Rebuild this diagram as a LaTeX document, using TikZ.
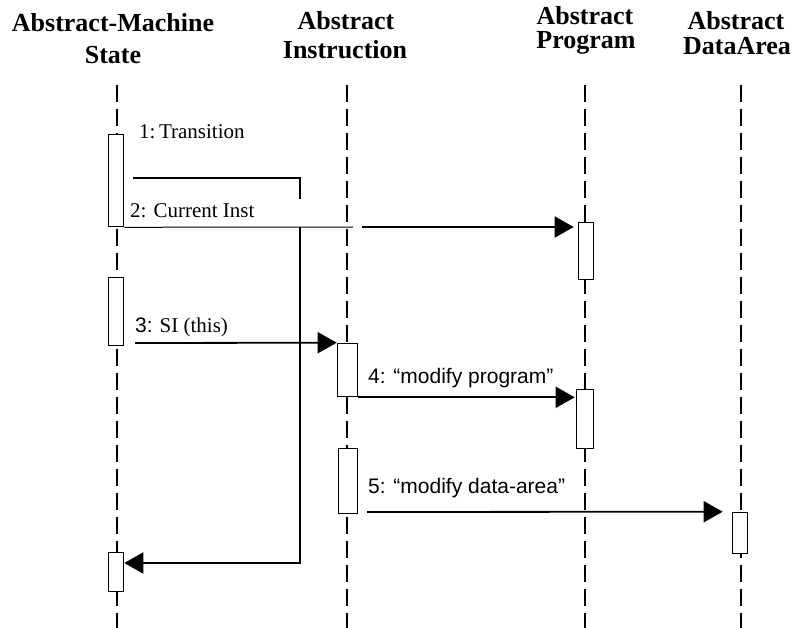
\documentclass[tikz,border=0pt]{standalone}
\usepackage{fontspec}
\setmainfont{Liberation Serif}
\newfontfamily\sansf{Liberation Sans}
\usetikzlibrary{arrows.meta}
\begin{document}
\begin{tikzpicture}[x=1pt,y=-1pt,
  hdr/.style={font=\fontsize{26}{30}\selectfont\bfseries, inner sep=0pt, anchor=base},
  lbl/.style={font=\fontsize{21}{24}\selectfont, inner sep=0pt, anchor=base west},
  life/.style={line width=1.6pt, dash pattern=on 17pt off 7pt},
  act/.style={draw, line width=1.6pt, fill=white, inner sep=0pt},
  msgline/.style={line width=1.8pt},
  msg/.style={line width=1.8pt, -{Triangle[length=19pt,width=21pt]}},
]
\useasboundingbox (0,0) rectangle (797,628);

% headers
\node[hdr] (h1a) at (113,32) {Abstract-Machine};
\node[hdr] (h1b) at (113,64) {State};
\node[hdr] (h2a) at (346,30) {Abstract};
\node[hdr] (h2b) at (345,59) {Instruction};
\node[hdr] (h3a) at (585,25) {Abstract};
\node[hdr] (h3b) at (586,49) {Program};
\node[hdr] (h4a) at (736,30) {Abstract};
\node[hdr] (h4b) at (737,55) {DataArea};

% lifelines
\coordinate (L1t) at (117,85);  \coordinate (L1b) at (117,628);
\coordinate (L2t) at (347,85);  \coordinate (L2b) at (347,628);
\coordinate (L3t) at (585,85);  \coordinate (L3b) at (585,628);
\coordinate (L4t) at (741,85);  \coordinate (L4b) at (741,628);
\draw[life] (L1t) -- (L1b);
\draw[life] (L2t) -- (L2b);
\draw[life] (L3t) -- (L3b);
\draw[life] (L4t) -- (L4b);

% activation boxes
\node[act, minimum width=15pt, minimum height=92pt] (a1) at (116,180.5) {};
\node[act, minimum width=15pt, minimum height=68pt] (a2) at (116,311.5) {};
\node[act, minimum width=15pt, minimum height=39pt] (a3) at (116,572) {};
\node[act, minimum width=20pt, minimum height=53pt] (i1) at (347.5,370) {};
\node[act, minimum width=19pt, minimum height=65pt] (i2) at (348,481) {};
\node[act, minimum width=15pt, minimum height=57pt] (p1) at (586,251) {};
\node[act, minimum width=17pt, minimum height=59pt] (p2) at (585,419) {};
\node[act, minimum width=15pt, minimum height=41pt] (d1) at (740,533) {};

% message 1 (Transition) and return
\coordinate (t1a) at (133,178);
\coordinate (t1b) at (300,178);
\coordinate (t1c) at (300,199);
\draw[msgline] (t1a) -- (t1b) -- (t1c);
\coordinate (r1a) at (300,227);
\coordinate (r1b) at (300,563);
\draw[msg] (r1a) -- (r1b) -- (a3.east |- r1b);

% message 2
\coordinate (m2a) at (353,227);
\coordinate (m2b) at (362,227);
\draw[line width=1pt] (a1.south east) -- (m2a);
\draw[msg] (m2b) -- ([xshift=-4pt]p1.west |- m2b);

% message 3
\coordinate (m3a) at (135,343);
\draw[msg] (m3a) -- (i1.north west);

% message 4
\draw[msg] (i1.south east) -- ([xshift=-1pt]i1.south east -| p2.west);

% message 5
\coordinate (m5a) at (367,512);
\draw[msg] (m5a) -- ([xshift=-9pt]d1.north west);

% labels
\node[lbl] (l1) at (139,139) {1:\,Transition};
\node[lbl] (l2) at (130,218) {2: Current Inst};
\node[lbl] (l3) at (135,332) {{\sansf 3:} SI (this)};
\node[lbl, font=\fontsize{21}{24}\sansf] (l4) at (368,383) {4: “modify program”};
\node[lbl, font=\fontsize{21}{24}\sansf] (l5) at (368,493) {5: “modify data-area”};
\end{tikzpicture}
\end{document}
